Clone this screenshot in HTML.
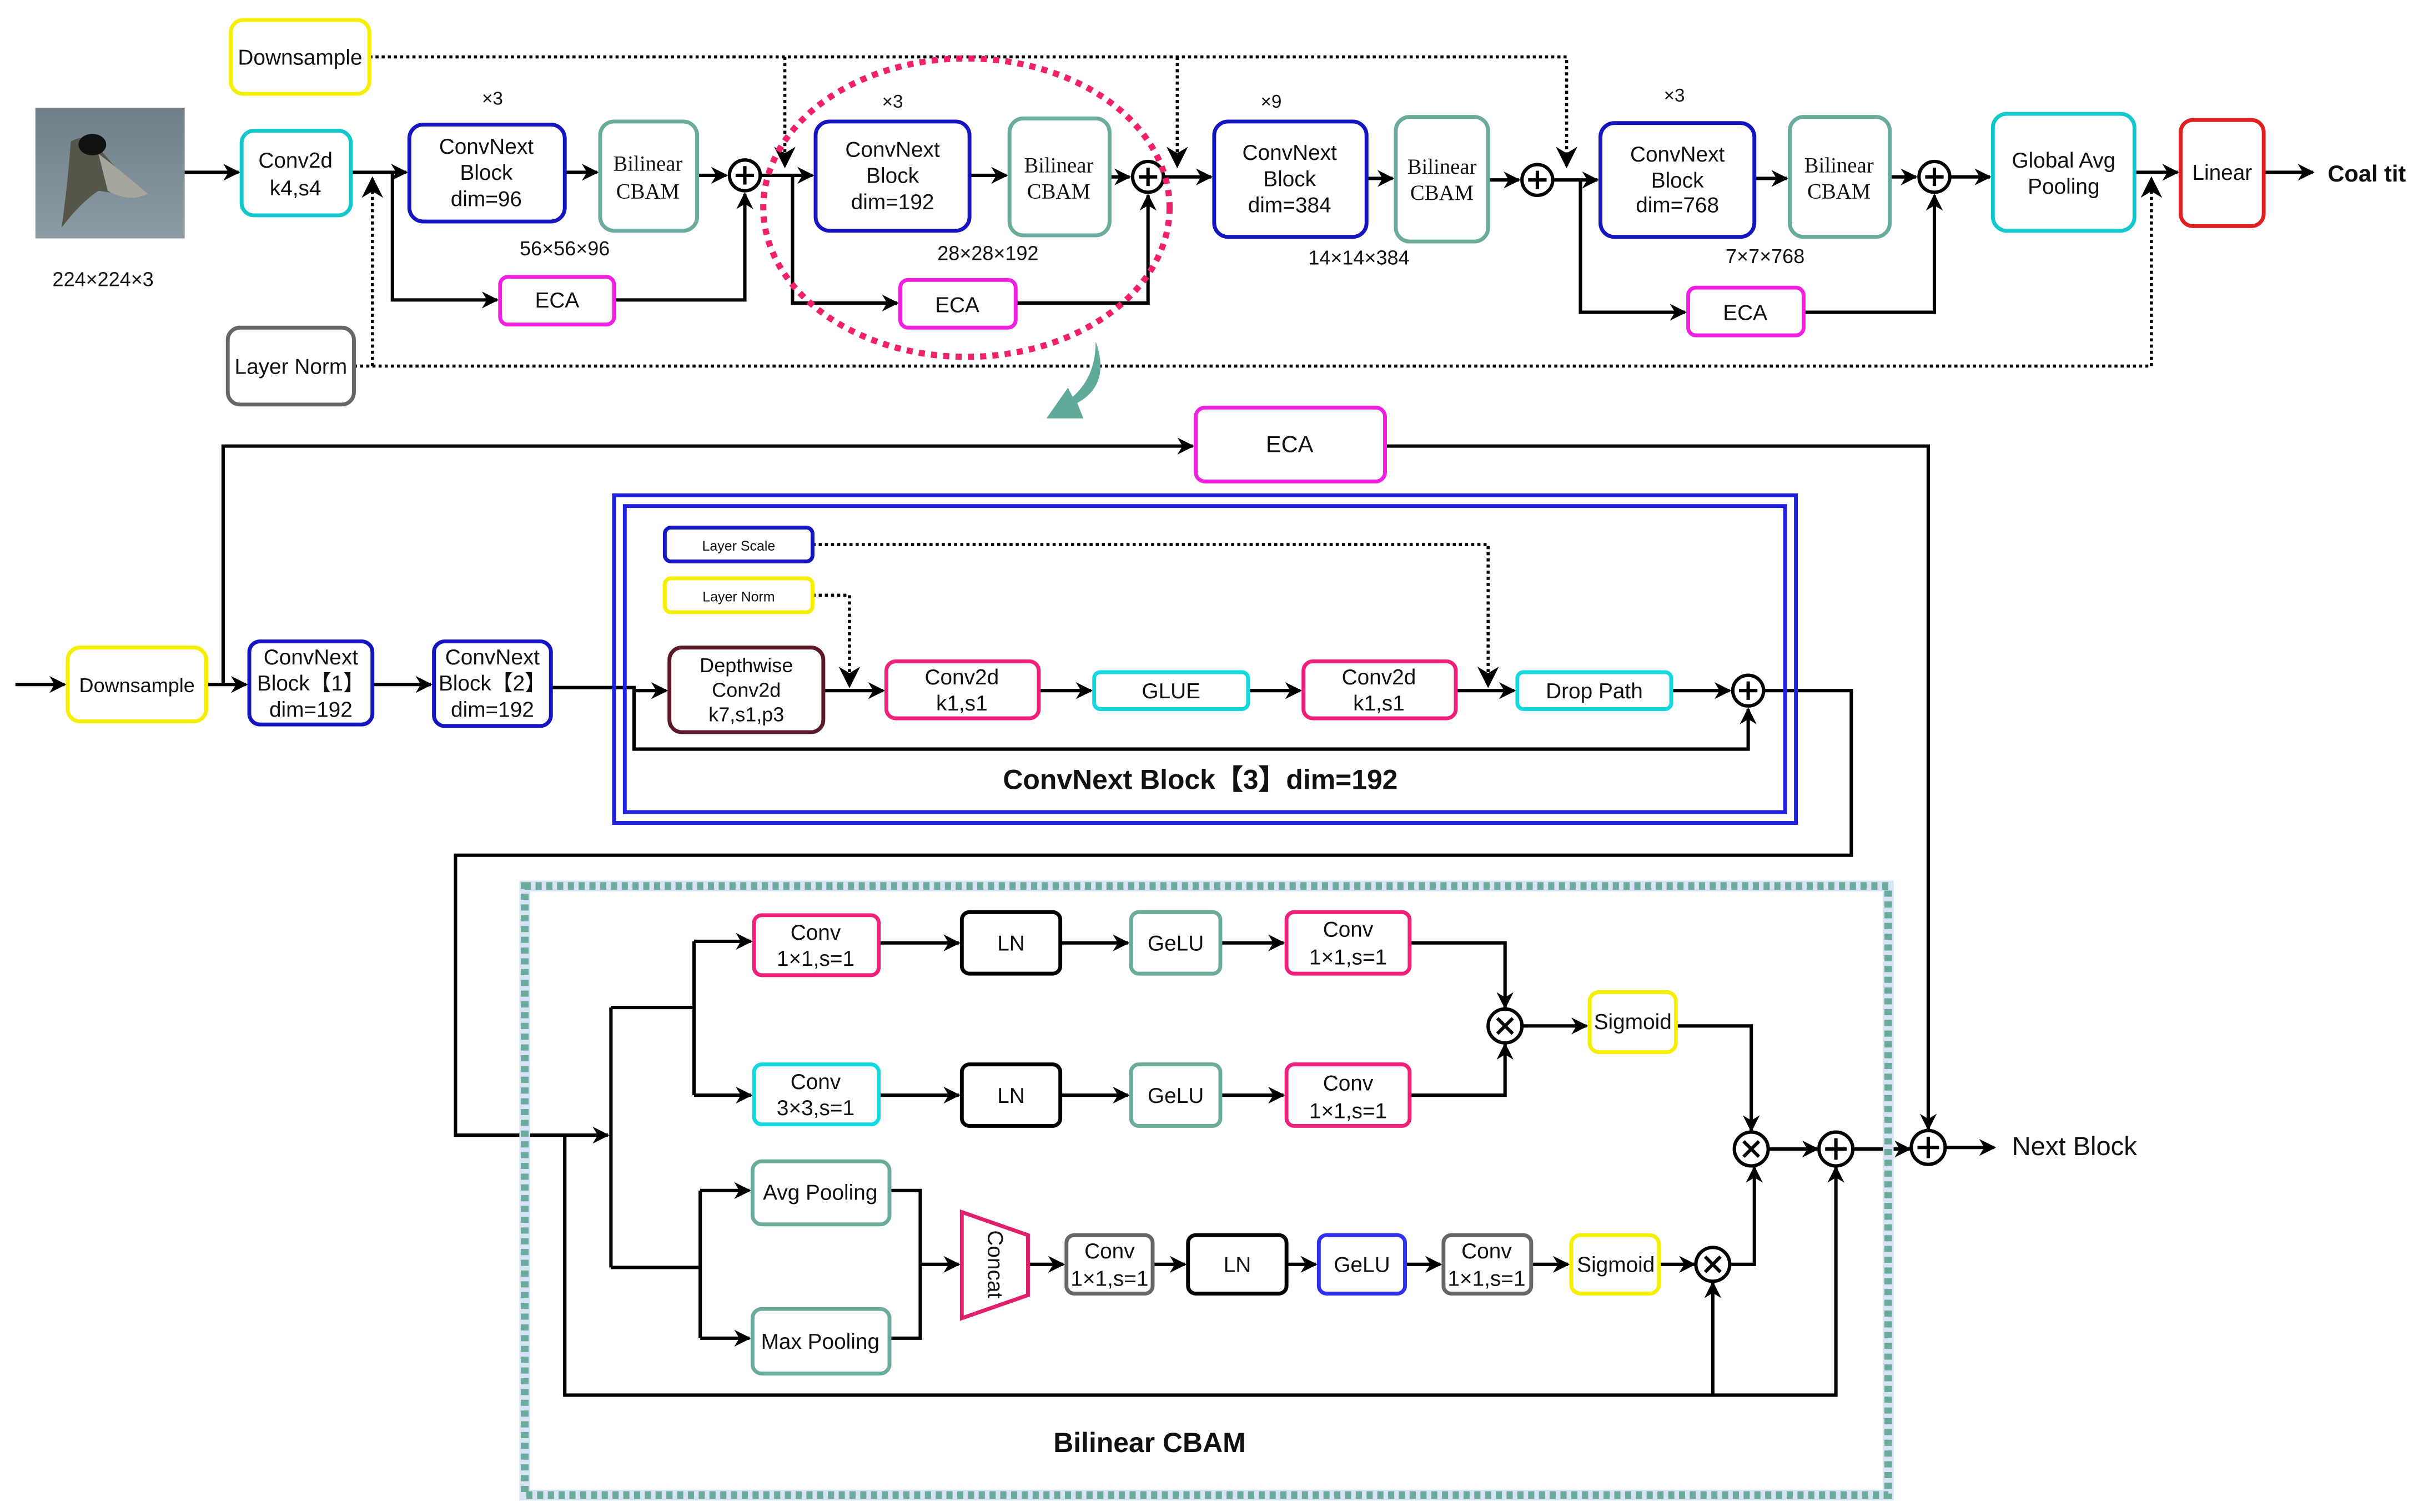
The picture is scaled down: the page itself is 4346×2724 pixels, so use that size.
<!DOCTYPE html>
<html><head><meta charset="utf-8"><style>
html,body{margin:0;padding:0;background:#fff;}
svg{display:block;}
text{font-family:"Liberation Sans",sans-serif;fill:#111;}
.s{font-family:"Liberation Serif",serif;}
</style></head><body>
<svg width="4346" height="2724" viewBox="0 0 1568 983" preserveAspectRatio="none" xmlns="http://www.w3.org/2000/svg">
<defs>
<marker id="a" viewBox="0 0 10 10" refX="9" refY="5" markerWidth="5" markerHeight="5" orient="auto" markerUnits="strokeWidth">
<path d="M0,0 L10,5 L0,10 L3,5 Z" fill="#000"/></marker>
<marker id="b" viewBox="0 0 10 10" refX="9" refY="5" markerWidth="7" markerHeight="7" orient="auto" markerUnits="strokeWidth">
<path d="M0,0 L10,5 L0,10 L3,5 Z" fill="#000"/></marker>
<linearGradient id="bird" x1="0" y1="0" x2="0" y2="1"><stop offset="0" stop-color="#6e7f88"/><stop offset="1" stop-color="#8d9ba2"/></linearGradient>
</defs>
<g fill="none" stroke="#000" stroke-width="2.2">
<g stroke-dasharray="2,2" stroke-width="2">
<path d="M240,37 H1018 V108" marker-end="url(#b)"/>
<path d="M510,37 V108" marker-end="url(#b)"/>
<path d="M765,37 V108" marker-end="url(#b)"/>
<path d="M230,238 H1398 V116" marker-end="url(#b)"/>
<path d="M242,238 V116" marker-end="url(#b)"/>
<path d="M528,354 H967 V446" marker-end="url(#b)"/>
<path d="M528,387 H552 V446" marker-end="url(#b)"/>
</g>
<path d="M120,112 H155" marker-end="url(#a)"/>
<path d="M228,112 H264" marker-end="url(#a)"/>
<path d="M255,112 V195 H323" marker-end="url(#a)"/>
<path d="M367,112 H388" marker-end="url(#a)"/>
<path d="M453,114 H472" marker-end="url(#a)"/>
<path d="M399,195 H484 V126" marker-end="url(#a)"/>
<path d="M494,114 H528" marker-end="url(#a)"/>
<path d="M515,114 V197 H583" marker-end="url(#a)"/>
<path d="M630,114 H654" marker-end="url(#a)"/>
<path d="M721,115 H734" marker-end="url(#a)"/>
<path d="M660,197 H746 V127" marker-end="url(#a)"/>
<path d="M756,115 H787" marker-end="url(#a)"/>
<path d="M888,116 H905" marker-end="url(#a)"/>
<path d="M967,117 H987" marker-end="url(#a)"/>
<path d="M1009,117 H1038" marker-end="url(#a)"/>
<path d="M1027,117 V203 H1095" marker-end="url(#a)"/>
<path d="M1140,116 H1161" marker-end="url(#a)"/>
<path d="M1228,115 H1245" marker-end="url(#a)"/>
<path d="M1172,203 H1257 V127" marker-end="url(#a)"/>
<path d="M1267,115 H1293" marker-end="url(#a)"/>
<path d="M1387,112 H1415" marker-end="url(#a)"/>
<path d="M1471,112 H1503" marker-end="url(#a)"/>
<path d="M145,445 V290 H775" marker-end="url(#a)"/>
<path d="M900,290 H1253 V734" marker-end="url(#a)"/>
<path d="M10,445 H42" marker-end="url(#a)"/>
<path d="M134,445 H160" marker-end="url(#a)"/>
<path d="M242,445 H280" marker-end="url(#a)"/>
<path d="M358,447 H412 V449"/>
<path d="M412,449 H433" marker-end="url(#a)"/>
<path d="M412,449 V487 H1136 V461" marker-end="url(#a)"/>
<path d="M535,449 H574" marker-end="url(#a)"/>
<path d="M675,449 H709" marker-end="url(#a)"/>
<path d="M811,449 H845" marker-end="url(#a)"/>
<path d="M946,449 H984" marker-end="url(#a)"/>
<path d="M1086,449 H1124" marker-end="url(#a)"/>
<path d="M1146,449 H1203 V556 H296 V738 H395" marker-end="url(#a)"/>
<path d="M367,738 V907 H1193 V759" marker-end="url(#a)"/>
<path d="M1113,907 V834" marker-end="url(#a)"/>
<path d="M397,655 V824"/>
<path d="M397,655 H451"/>
<path d="M451,612 V712"/>
<path d="M451,612 H488" marker-end="url(#a)"/>
<path d="M451,712 H488" marker-end="url(#a)"/>
<path d="M571,613 H623" marker-end="url(#a)"/>
<path d="M689,613 H733" marker-end="url(#a)"/>
<path d="M793,613 H834" marker-end="url(#a)"/>
<path d="M571,712 H623" marker-end="url(#a)"/>
<path d="M689,712 H733" marker-end="url(#a)"/>
<path d="M793,712 H834" marker-end="url(#a)"/>
<path d="M916,613 H978 V655" marker-end="url(#a)"/>
<path d="M916,712 H978 V679" marker-end="url(#a)"/>
<path d="M990,667 H1031" marker-end="url(#a)"/>
<path d="M1089,667 H1138 V735" marker-end="url(#a)"/>
<path d="M397,824 H455"/>
<path d="M455,774 V870"/>
<path d="M455,774 H487" marker-end="url(#a)"/>
<path d="M455,870 H487" marker-end="url(#a)"/>
<path d="M578,774 H598 V870 H578"/>
<path d="M598,822 H623" marker-end="url(#a)"/>
<path d="M668,822 H691" marker-end="url(#a)"/>
<path d="M749,822 H770" marker-end="url(#a)"/>
<path d="M836,822 H855" marker-end="url(#a)"/>
<path d="M913,822 H936" marker-end="url(#a)"/>
<path d="M995,822 H1019" marker-end="url(#a)"/>
<path d="M1078,822 H1101" marker-end="url(#a)"/>
<path d="M1125,822 H1140 V759" marker-end="url(#a)"/>
<path d="M1150,747 H1181" marker-end="url(#a)"/>
<path d="M1205,747 H1241" marker-end="url(#a)"/>
<path d="M1265,746 H1296" marker-end="url(#a)"/>
</g>
<rect x="23" y="70" width="97" height="85" fill="url(#bird)"/>
<path d="M46,92 Q56,86 64,96 Q76,110 92,128 Q78,126 64,124 Q52,132 40,148 Q44,120 46,92Z" fill="#55554a"/>
<path d="M64,100 Q80,112 96,126 Q84,132 70,124Z" fill="#a6a69c"/>
<ellipse cx="60" cy="94" rx="9" ry="7" fill="#111"/>
<g fill="#fff" stroke-width="2.5">
<rect x="150" y="13" width="90" height="48" rx="8" stroke="#f5f000"/>
<rect x="148" y="213" width="82" height="50" rx="8" stroke="#666"/>
<rect x="157" y="85" width="71" height="55" rx="8" stroke="#12c8cc"/>
<rect x="266" y="81" width="101" height="63" rx="9" stroke="#1515c0"/>
<rect x="390" y="79" width="63" height="71" rx="9" stroke="#6aab9c"/>
<rect x="325" y="180" width="74" height="31" rx="5" stroke="#f020e0"/>
<rect x="530" y="79" width="100" height="71" rx="9" stroke="#1515c0"/>
<rect x="656" y="77" width="65" height="76" rx="9" stroke="#6aab9c"/>
<rect x="585" y="182" width="75" height="31" rx="5" stroke="#f020e0"/>
<rect x="789" y="79" width="99" height="75" rx="9" stroke="#1515c0"/>
<rect x="907" y="76" width="60" height="81" rx="9" stroke="#6aab9c"/>
<rect x="1040" y="80" width="100" height="74" rx="9" stroke="#1515c0"/>
<rect x="1163" y="76" width="65" height="78" rx="9" stroke="#6aab9c"/>
<rect x="1097" y="187" width="75" height="31" rx="5" stroke="#f020e0"/>
<rect x="1295" y="74" width="92" height="76" rx="9" stroke="#12c8cc"/>
<rect x="1417" y="78" width="54" height="69" rx="8" stroke="#e02020"/>
<rect x="777" y="265" width="123" height="48" rx="6" stroke="#f020e0"/>
<rect x="44" y="421" width="90" height="48" rx="8" stroke="#f5f000"/>
<rect x="162" y="417" width="80" height="54" rx="7" stroke="#1515c0"/>
<rect x="282" y="417" width="76" height="55" rx="7" stroke="#1515c0"/>
</g>
<rect x="399" y="322" width="768" height="213" fill="none" stroke="#2020e0" stroke-width="2.5"/>
<rect x="406" y="329" width="754" height="199" fill="none" stroke="#2020e0" stroke-width="2.5"/>
<g fill="#fff" stroke-width="2.5">
<rect x="432" y="343" width="96" height="22" rx="4" stroke="#1515c0"/>
<rect x="432" y="376" width="96" height="22" rx="4" stroke="#f5f000"/>
<rect x="435" y="421" width="100" height="55" rx="8" stroke="#5a1a2a"/>
<rect x="576" y="430" width="99" height="37" rx="6" stroke="#f0207a"/>
<rect x="711" y="437" width="100" height="24" rx="4" stroke="#12d8e0"/>
<rect x="847" y="430" width="99" height="37" rx="6" stroke="#f0207a"/>
<rect x="986" y="437" width="100" height="24" rx="4" stroke="#12d8e0"/>
</g>
<rect x="341" y="576" width="886" height="396" fill="none" stroke="#d8e4f5" stroke-width="7"/>
<rect x="341" y="576" width="886" height="396" fill="none" stroke="#6aab9c" stroke-width="5" stroke-dasharray="4,3"/>
<g fill="#fff" stroke-width="2.5">
<rect x="490" y="595" width="81" height="39" rx="5" stroke="#f0207a"/>
<rect x="490" y="692" width="81" height="39" rx="5" stroke="#12d8e0"/>
<rect x="625" y="593" width="64" height="40" rx="5" stroke="#000"/>
<rect x="625" y="692" width="64" height="40" rx="5" stroke="#000"/>
<rect x="735" y="593" width="58" height="40" rx="5" stroke="#6aab9c"/>
<rect x="735" y="692" width="58" height="40" rx="5" stroke="#6aab9c"/>
<rect x="836" y="593" width="80" height="40" rx="5" stroke="#f0207a"/>
<rect x="836" y="692" width="80" height="40" rx="5" stroke="#f0207a"/>
<rect x="1033" y="645" width="56" height="39" rx="6" stroke="#f5f000"/>
<rect x="489" y="755" width="89" height="41" rx="6" stroke="#6aab9c"/>
<rect x="489" y="851" width="89" height="42" rx="6" stroke="#6aab9c"/>
<path d="M625,788 L668,803 L668,842 L625,857 Z" stroke="#e0206a"/>
<rect x="693" y="803" width="56" height="38" rx="5" stroke="#666"/>
<rect x="772" y="803" width="64" height="38" rx="5" stroke="#000"/>
<rect x="857" y="803" width="56" height="38" rx="5" stroke="#3030f0"/>
<rect x="938" y="803" width="57" height="38" rx="5" stroke="#666"/>
<rect x="1021" y="803" width="57" height="38" rx="6" stroke="#f5f000"/>
</g>
<g fill="#fff" stroke="#000" stroke-width="2.2">
<circle cx="484" cy="114" r="10"/><circle cx="746" cy="115" r="10"/><circle cx="999" cy="117" r="10"/><circle cx="1257" cy="115" r="10"/>
<circle cx="1136" cy="449" r="10"/><circle cx="978" cy="667" r="11"/><circle cx="1138" cy="747" r="11"/><circle cx="1113" cy="822" r="11"/>
<circle cx="1193" cy="747" r="11"/><circle cx="1253" cy="746" r="11"/>
</g>
<g stroke="#000" stroke-width="2.2">
<path d="M478,114h12M484,108v12M740,115h12M746,109v12M993,117h12M999,111v12M1251,115h12M1257,109v12M1130,449h12M1136,443v12M1186,747h14M1193,740v14M1246,746h14M1253,739v14"/>
<path d="M973,662l10,10M983,662l-10,10M1133,742l10,10M1143,742l-10,10M1108,817l10,10M1118,817l-10,10"/>
</g>
<ellipse cx="628" cy="135" rx="132" ry="97" fill="none" stroke="#f0206a" stroke-width="4" stroke-dasharray="4,4"/>
<path d="M712,222 Q722,250 700,262 L704,272 L680,272 L694,252 L697,258 Q712,245 712,222Z" fill="#5faa98"/>
<g font-size="14" text-anchor="middle">
<text x="195" y="42">Downsample</text>
<text x="189" y="243">Layer Norm</text>
<text x="67" y="186" font-size="13">224×224×3</text>
<text x="192" y="109">Conv2d</text><text x="192" y="127">k4,s4</text>
<text x="320" y="68" font-size="12">×3</text>
<text x="316" y="100">ConvNext</text><text x="316" y="117">Block</text><text x="316" y="134">dim=96</text>
<text class="s" x="421" y="111">Bilinear</text><text class="s" x="421" y="129">CBAM</text>
<text x="367" y="166" font-size="13">56×56×96</text>
<text x="362" y="200">ECA</text>
<text x="580" y="70" font-size="12">×3</text>
<text x="580" y="102">ConvNext</text><text x="580" y="119">Block</text><text x="580" y="136">dim=192</text>
<text class="s" x="688" y="112">Bilinear</text><text class="s" x="688" y="129">CBAM</text>
<text x="642" y="169" font-size="13">28×28×192</text>
<text x="622" y="203">ECA</text>
<text x="826" y="70" font-size="12">×9</text>
<text x="838" y="104">ConvNext</text><text x="838" y="121">Block</text><text x="838" y="138">dim=384</text>
<text class="s" x="937" y="113">Bilinear</text><text class="s" x="937" y="130">CBAM</text>
<text x="883" y="172" font-size="13">14×14×384</text>
<text x="1088" y="66" font-size="12">×3</text>
<text x="1090" y="105">ConvNext</text><text x="1090" y="122">Block</text><text x="1090" y="138">dim=768</text>
<text class="s" x="1195" y="112">Bilinear</text><text class="s" x="1195" y="129">CBAM</text>
<text x="1147" y="171" font-size="13">7×7×768</text>
<text x="1134" y="208">ECA</text>
<text x="1341" y="109">Global Avg</text><text x="1341" y="126">Pooling</text>
<text x="1444" y="117">Linear</text>
<text x="1538" y="118" font-weight="bold" font-size="15">Coal tit</text>
<text x="838" y="294" font-size="15">ECA</text>
<text x="89" y="450" font-size="13">Downsample</text>
<text x="202" y="432">ConvNext</text><text x="202" y="449">Block【1】</text><text x="202" y="466">dim=192</text>
<text x="320" y="432">ConvNext</text><text x="320" y="449">Block【2】</text><text x="320" y="466">dim=192</text>
<text x="480" y="358" font-size="9">Layer Scale</text>
<text x="480" y="391" font-size="9">Layer Norm</text>
<text x="485" y="437" font-size="13">Depthwise</text><text x="485" y="453" font-size="13">Conv2d</text><text x="485" y="469" font-size="13">k7,s1,p3</text>
<text x="625" y="445">Conv2d</text><text x="625" y="462">k1,s1</text>
<text x="761" y="454">GLUE</text>
<text x="896" y="445">Conv2d</text><text x="896" y="462">k1,s1</text>
<text x="1036" y="454">Drop Path</text>
<text x="780" y="513" font-size="18" font-weight="bold">ConvNext Block【3】dim=192</text>
<text x="530" y="611">Conv</text><text x="530" y="628">1×1,s=1</text>
<text x="530" y="708">Conv</text><text x="530" y="725">3×3,s=1</text>
<text x="657" y="618">LN</text><text x="657" y="717">LN</text>
<text x="764" y="618">GeLU</text><text x="764" y="717">GeLU</text>
<text x="876" y="609">Conv</text><text x="876" y="627">1×1,s=1</text>
<text x="876" y="709">Conv</text><text x="876" y="727">1×1,s=1</text>
<text x="1061" y="669">Sigmoid</text>
<text x="533" y="780">Avg Pooling</text>
<text x="533" y="877">Max Pooling</text>
<text x="0" y="0" transform="translate(642,822) rotate(90)">Concat</text>
<text x="721" y="818">Conv</text><text x="721" y="836">1×1,s=1</text>
<text x="804" y="827">LN</text>
<text x="885" y="827">GeLU</text>
<text x="966" y="818">Conv</text><text x="966" y="836">1×1,s=1</text>
<text x="1050" y="827">Sigmoid</text>
<text x="1348" y="751" font-size="17" text-anchor="middle">Next Block</text>
<text x="747" y="944" font-size="18" font-weight="bold">Bilinear CBAM</text>
</g>
</svg>
</body></html>
